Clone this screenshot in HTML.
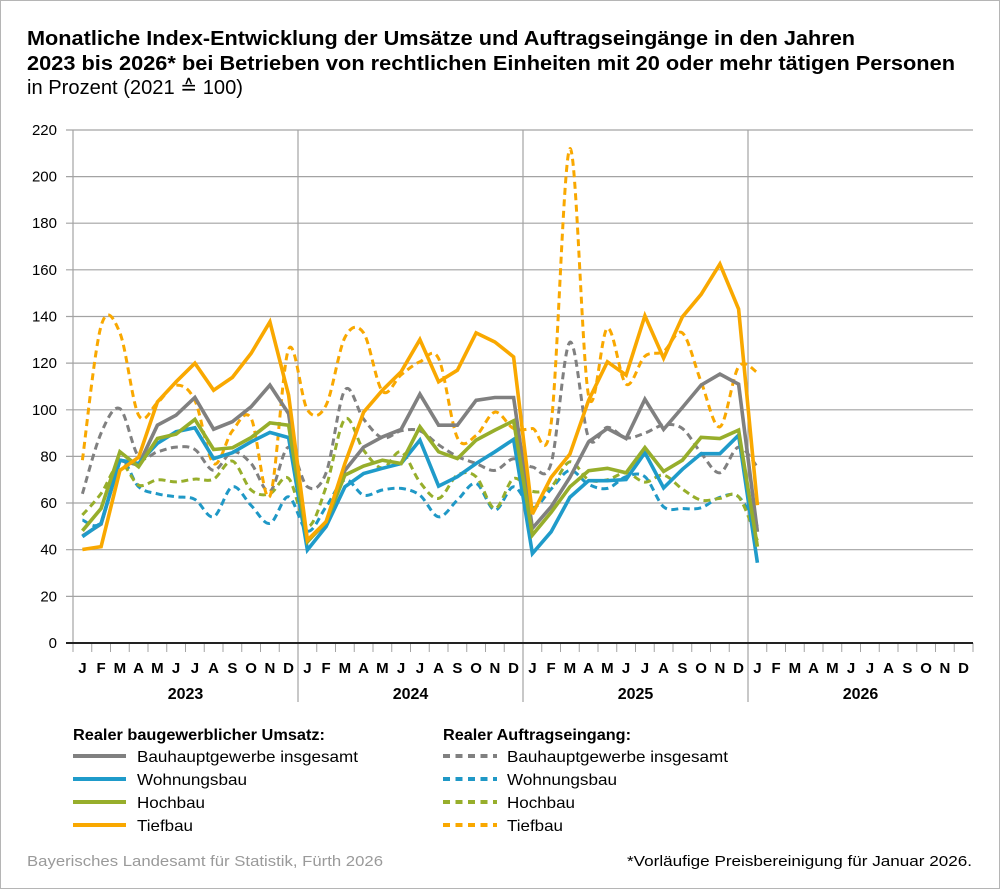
<!DOCTYPE html>
<html><head><meta charset="utf-8"><style>
html,body{margin:0;padding:0;background:#fff;}
svg{display:block;font-family:"Liberation Sans",Arial,sans-serif;}
</style></head><body>
<svg id="c" width="1000" height="889" viewBox="0 0 1000 889" xmlns="http://www.w3.org/2000/svg">
<rect x="0.5" y="0.5" width="999" height="888" fill="#fff" stroke="#b5b5b5" stroke-width="1"/>
<!-- Title -->
<text x="27" y="45" font-size="20" font-weight="bold" fill="#000" textLength="828" lengthAdjust="spacingAndGlyphs">Monatliche Index-Entwicklung der Umsätze und Auftragseingänge in den Jahren</text>
<text x="27" y="70" font-size="20" font-weight="bold" fill="#000" textLength="928" lengthAdjust="spacingAndGlyphs">2023 bis 2026* bei Betrieben von rechtlichen Einheiten mit 20 oder mehr tätigen Personen</text>
<text x="27" y="94" font-size="20" fill="#000" textLength="216" lengthAdjust="spacingAndGlyphs">in Prozent (2021 ≙ 100)</text>

<!-- grid -->
<g stroke="#a3a3a3" stroke-width="1.2">
<line x1="66" y1="596.4" x2="973" y2="596.4"/>
<line x1="66" y1="549.7" x2="973" y2="549.7"/>
<line x1="66" y1="503.0" x2="973" y2="503.0"/>
<line x1="66" y1="456.4" x2="973" y2="456.4"/>
<line x1="66" y1="409.8" x2="973" y2="409.8"/>
<line x1="66" y1="363.1" x2="973" y2="363.1"/>
<line x1="66" y1="316.5" x2="973" y2="316.5"/>
<line x1="66" y1="269.8" x2="973" y2="269.8"/>
<line x1="66" y1="223.2" x2="973" y2="223.2"/>
<line x1="66" y1="176.6" x2="973" y2="176.6"/>
<line x1="66" y1="130" x2="973" y2="130"/>
<line x1="73" y1="130" x2="73" y2="643"/>
<line x1="298" y1="130" x2="298" y2="702"/>
<line x1="523" y1="130" x2="523" y2="702"/>
<line x1="748" y1="130" x2="748" y2="702"/>
</g>
<!-- x ticks -->
<g stroke="#a3a3a3" stroke-width="1">
<line x1="73" y1="643" x2="73" y2="652"/><line x1="91.75" y1="643" x2="91.75" y2="652"/><line x1="110.5" y1="643" x2="110.5" y2="652"/><line x1="129.25" y1="643" x2="129.25" y2="652"/><line x1="148" y1="643" x2="148" y2="652"/><line x1="166.75" y1="643" x2="166.75" y2="652"/><line x1="185.5" y1="643" x2="185.5" y2="652"/><line x1="204.25" y1="643" x2="204.25" y2="652"/><line x1="223" y1="643" x2="223" y2="652"/><line x1="241.75" y1="643" x2="241.75" y2="652"/><line x1="260.5" y1="643" x2="260.5" y2="652"/><line x1="279.25" y1="643" x2="279.25" y2="652"/>
<line x1="316.75" y1="643" x2="316.75" y2="652"/><line x1="335.5" y1="643" x2="335.5" y2="652"/><line x1="354.25" y1="643" x2="354.25" y2="652"/><line x1="373" y1="643" x2="373" y2="652"/><line x1="391.75" y1="643" x2="391.75" y2="652"/><line x1="410.5" y1="643" x2="410.5" y2="652"/><line x1="429.25" y1="643" x2="429.25" y2="652"/><line x1="448" y1="643" x2="448" y2="652"/><line x1="466.75" y1="643" x2="466.75" y2="652"/><line x1="485.5" y1="643" x2="485.5" y2="652"/><line x1="504.25" y1="643" x2="504.25" y2="652"/>
<line x1="541.75" y1="643" x2="541.75" y2="652"/><line x1="560.5" y1="643" x2="560.5" y2="652"/><line x1="579.25" y1="643" x2="579.25" y2="652"/><line x1="598" y1="643" x2="598" y2="652"/><line x1="616.75" y1="643" x2="616.75" y2="652"/><line x1="635.5" y1="643" x2="635.5" y2="652"/><line x1="654.25" y1="643" x2="654.25" y2="652"/><line x1="673" y1="643" x2="673" y2="652"/><line x1="691.75" y1="643" x2="691.75" y2="652"/><line x1="710.5" y1="643" x2="710.5" y2="652"/><line x1="729.25" y1="643" x2="729.25" y2="652"/>
<line x1="766.75" y1="643" x2="766.75" y2="652"/><line x1="785.5" y1="643" x2="785.5" y2="652"/><line x1="804.25" y1="643" x2="804.25" y2="652"/><line x1="823" y1="643" x2="823" y2="652"/><line x1="841.75" y1="643" x2="841.75" y2="652"/><line x1="860.5" y1="643" x2="860.5" y2="652"/><line x1="879.25" y1="643" x2="879.25" y2="652"/><line x1="898" y1="643" x2="898" y2="652"/><line x1="916.75" y1="643" x2="916.75" y2="652"/><line x1="935.5" y1="643" x2="935.5" y2="652"/><line x1="954.25" y1="643" x2="954.25" y2="652"/><line x1="973" y1="643" x2="973" y2="652"/>
</g>
<line x1="66" y1="643" x2="973" y2="643" stroke="#222" stroke-width="2"/>

<!-- y labels -->
<g font-size="15" fill="#000" text-anchor="end">
<text x="57" y="648">0</text>
<text x="57" y="601.4">20</text>
<text x="57" y="554.7">40</text>
<text x="57" y="508">60</text>
<text x="57" y="461.4">80</text>
<text x="57" y="414.8">100</text>
<text x="57" y="368.1">120</text>
<text x="57" y="321.5">140</text>
<text x="57" y="274.8">160</text>
<text x="57" y="228.2">180</text>
<text x="57" y="181.6">200</text>
<text x="57" y="135">220</text>
</g>

<!-- month labels -->
<g font-size="15" font-weight="bold" fill="#000" text-anchor="middle">
<text x="82.4" y="673">J</text><text x="101.1" y="673">F</text><text x="119.9" y="673">M</text><text x="138.6" y="673">A</text><text x="157.4" y="673">M</text><text x="176.1" y="673">J</text><text x="194.9" y="673">J</text><text x="213.6" y="673">A</text><text x="232.4" y="673">S</text><text x="251.1" y="673">O</text><text x="269.9" y="673">N</text><text x="288.6" y="673">D</text>
<text x="307.4" y="673">J</text><text x="326.1" y="673">F</text><text x="344.9" y="673">M</text><text x="363.6" y="673">A</text><text x="382.4" y="673">M</text><text x="401.1" y="673">J</text><text x="419.9" y="673">J</text><text x="438.6" y="673">A</text><text x="457.4" y="673">S</text><text x="476.1" y="673">O</text><text x="494.9" y="673">N</text><text x="513.6" y="673">D</text>
<text x="532.4" y="673">J</text><text x="551.1" y="673">F</text><text x="569.9" y="673">M</text><text x="588.6" y="673">A</text><text x="607.4" y="673">M</text><text x="626.1" y="673">J</text><text x="644.9" y="673">J</text><text x="663.6" y="673">A</text><text x="682.4" y="673">S</text><text x="701.1" y="673">O</text><text x="719.9" y="673">N</text><text x="738.6" y="673">D</text>
<text x="757.4" y="673">J</text><text x="776.1" y="673">F</text><text x="794.9" y="673">M</text><text x="813.6" y="673">A</text><text x="832.4" y="673">M</text><text x="851.1" y="673">J</text><text x="869.9" y="673">J</text><text x="888.6" y="673">A</text><text x="907.4" y="673">S</text><text x="926.1" y="673">O</text><text x="944.9" y="673">N</text><text x="963.6" y="673">D</text>
</g>
<g font-size="16" font-weight="bold" fill="#000" text-anchor="middle">
<text x="185.5" y="699">2023</text>
<text x="410.5" y="699">2024</text>
<text x="635.5" y="699">2025</text>
<text x="860.5" y="699">2026</text>
</g>

<!-- dashed series (Auftragseingang) -->
<g fill="none" stroke-width="3" stroke-dasharray="7 4.5" stroke-linejoin="round">
<polyline class="sm" stroke="#808080" points="82.4,493.8 101.1,433.1 119.9,408.7 138.6,456.5 157.4,451.8 176.1,447.1 194.9,449.5 213.6,470.4 232.4,451.8 251.1,463.5 269.9,491.4 288.6,447.1 307.4,486.8 326.1,472.8 344.9,390.0 363.6,419.1 382.4,437.8 401.1,430.8 419.9,430.8 438.6,444.8 457.4,456.5 476.1,463.5 494.9,470.4 513.6,458.8 532.4,467.0 551.1,463.5 569.9,342.2 588.6,437.8 607.4,427.3 626.1,437.8 644.9,433.1 663.6,425.0 682.4,428.5 701.1,453.0 719.9,472.8 738.6,447.1 757.4,467.0"/>
<polyline class="sm" stroke="#1f98c6" points="82.4,520.1 101.1,521.7 119.9,461.1 138.6,486.8 157.4,493.8 176.1,496.8 194.9,499.4 213.6,516.8 232.4,486.8 251.1,505.4 269.9,523.4 288.6,496.8 307.4,531.1 326.1,506.8 344.9,479.8 363.6,495.2 382.4,490.0 401.1,488.4 419.9,495.2 438.6,516.8 457.4,500.1 476.1,483.5 494.9,510.1 513.6,486.8 532.4,507.8 551.1,489.1 569.9,470.4 588.6,484.4 607.4,488.4 626.1,476.7 644.9,476.7 663.6,506.8 682.4,508.5 701.1,507.8 719.9,497.3 738.6,496.8 757.4,526.4"/>
<polyline class="sm" stroke="#97ae2b" points="82.4,515.0 101.1,493.5 119.9,463.5 138.6,485.1 157.4,479.8 176.1,481.9 194.9,479.1 213.6,479.1 232.4,461.1 251.1,490.0 269.9,493.8 288.6,478.4 307.4,526.4 326.1,486.8 344.9,419.1 363.6,450.2 382.4,468.1 401.1,451.8 419.9,482.1 438.6,498.4 457.4,475.1 476.1,476.7 494.9,508.5 513.6,478.6 532.4,491.4 551.1,486.8 569.9,461.8 588.6,479.8 607.4,479.8 626.1,472.8 644.9,482.1 663.6,475.1 682.4,489.1 701.1,500.1 719.9,498.4 738.6,496.8 757.4,540.4"/>
<polyline class="sm" stroke="#f9a800" points="82.4,460.2 101.1,325.9 119.9,332.9 138.6,415.2 157.4,402.8 176.1,385.1 194.9,400.5 213.6,463.5 232.4,430.8 251.1,418.4 269.9,496.1 288.6,349.2 307.4,409.8 326.1,405.2 344.9,337.5 363.6,332.9 382.4,391.2 401.1,374.8 419.9,361.8 438.6,358.5 457.4,437.8 476.1,435.5 494.9,412.1 513.6,428.5 532.4,428.5 551.1,423.8 569.9,148.7 588.6,395.8 607.4,328.2 626.1,384.2 644.9,356.2 663.6,351.5 682.4,332.9 701.1,381.8 719.9,426.8 738.6,366.7 757.4,372.5"/>
</g>

<!-- solid series (Umsatz) -->
<g fill="none" stroke-width="3.6" stroke-linejoin="miter" stroke-miterlimit="3">
<polyline stroke="#808080" points="82.4,536.0 101.1,524.1 119.9,460.2 138.6,465.1 157.4,425.2 176.1,415.2 194.9,397.5 213.6,429.2 232.4,421.7 251.1,406.8 269.9,385.1 288.6,413.6 307.4,540.4 326.1,523.4 344.9,470.4 363.6,447.1 382.4,436.9 401.1,429.4 419.9,394.2 438.6,425.2 457.4,425.2 476.1,400.3 494.9,397.5 513.6,397.5 532.4,528.3 551.1,506.8 569.9,477.4 588.6,441.8 607.4,428.5 626.1,438.5 644.9,399.3 663.6,429.4 682.4,407.5 701.1,385.1 719.9,374.1 738.6,384.2 757.4,531.8"/>
<polyline stroke="#1f9bca" points="82.4,536.7 101.1,523.4 119.9,460.2 138.6,463.5 157.4,443.4 176.1,431.7 194.9,427.8 213.6,458.6 232.4,452.7 251.1,441.8 269.9,432.4 288.6,437.6 307.4,550.0 326.1,526.6 344.9,486.8 363.6,473.5 382.4,468.3 401.1,463.5 419.9,440.1 438.6,486.1 457.4,476.7 476.1,463.5 494.9,451.8 513.6,439.4 532.4,553.5 551.1,531.8 569.9,497.3 588.6,480.7 607.4,480.7 626.1,479.5 644.9,452.7 663.6,487.9 682.4,469.3 701.1,453.7 719.9,453.7 738.6,435.2 757.4,562.8"/>
<polyline stroke="#97ae2b" points="82.4,530.8 101.1,508.5 119.9,451.8 138.6,466.7 157.4,438.5 176.1,434.1 194.9,419.4 213.6,449.5 232.4,447.8 251.1,437.6 269.9,422.9 288.6,425.2 307.4,541.8 326.1,521.7 344.9,475.1 363.6,466.0 382.4,460.2 401.1,463.5 419.9,426.8 438.6,451.8 457.4,458.6 476.1,440.1 494.9,430.1 513.6,420.8 532.4,535.0 551.1,512.4 569.9,486.8 588.6,470.7 607.4,468.3 626.1,472.8 644.9,447.6 663.6,471.4 682.4,460.2 701.1,437.3 719.9,438.5 738.6,430.1 757.4,546.7"/>
<polyline stroke="#f9a800" points="82.4,549.5 101.1,546.7 119.9,470.4 138.6,457.4 157.4,401.9 176.1,381.8 194.9,363.2 213.6,390.2 232.4,377.4 251.1,353.4 269.9,321.9 288.6,395.1 307.4,540.2 326.1,521.7 344.9,463.5 363.6,412.2 382.4,390.2 401.1,371.8 419.9,339.6 438.6,381.8 457.4,370.2 476.1,332.9 494.9,342.0 513.6,356.9 532.4,514.1 551.1,477.4 569.9,454.1 588.6,400.3 607.4,361.8 626.1,375.1 644.9,315.8 663.6,358.1 682.4,316.8 701.1,294.4 719.9,264.1 738.6,309.1 757.4,505.2"/>
</g>

<!-- legend -->
<text x="73" y="740" font-size="16" font-weight="bold" fill="#000" textLength="252" lengthAdjust="spacingAndGlyphs">Realer baugewerblicher Umsatz:</text>
<text x="443" y="740" font-size="16" font-weight="bold" fill="#000" textLength="188" lengthAdjust="spacingAndGlyphs">Realer Auftragseingang:</text>
<g stroke-width="4">
<line x1="73" y1="756" x2="126" y2="756" stroke="#808080"/>
<line x1="73" y1="779" x2="126" y2="779" stroke="#1f9bca"/>
<line x1="73" y1="802" x2="126" y2="802" stroke="#97ae2b"/>
<line x1="73" y1="825" x2="126" y2="825" stroke="#f9a800"/>
</g>
<g stroke-width="4" stroke-dasharray="7 5.5">
<line x1="443" y1="756" x2="497" y2="756" stroke="#808080"/>
<line x1="443" y1="779" x2="497" y2="779" stroke="#1f98c6"/>
<line x1="443" y1="802" x2="497" y2="802" stroke="#97ae2b"/>
<line x1="443" y1="825" x2="497" y2="825" stroke="#f9a800"/>
</g>
<g font-size="16" fill="#000">
<text x="137" y="762" textLength="221" lengthAdjust="spacingAndGlyphs">Bauhauptgewerbe insgesamt</text>
<text x="137" y="785" textLength="110" lengthAdjust="spacingAndGlyphs">Wohnungsbau</text>
<text x="137" y="808" textLength="68" lengthAdjust="spacingAndGlyphs">Hochbau</text>
<text x="137" y="831" textLength="56" lengthAdjust="spacingAndGlyphs">Tiefbau</text>
<text x="507" y="762" textLength="221" lengthAdjust="spacingAndGlyphs">Bauhauptgewerbe insgesamt</text>
<text x="507" y="785" textLength="110" lengthAdjust="spacingAndGlyphs">Wohnungsbau</text>
<text x="507" y="808" textLength="68" lengthAdjust="spacingAndGlyphs">Hochbau</text>
<text x="507" y="831" textLength="56" lengthAdjust="spacingAndGlyphs">Tiefbau</text>
</g>

<!-- footer -->
<text x="27" y="866" font-size="15" fill="#9a9a9a" textLength="356" lengthAdjust="spacingAndGlyphs">Bayerisches Landesamt für Statistik, Fürth 2026</text>
<text x="972" y="866" font-size="15" fill="#000" text-anchor="end" textLength="345" lengthAdjust="spacingAndGlyphs">*Vorläufige Preisbereinigung für Januar 2026.</text>
</svg>
<script>
(function(){
  var ns="http://www.w3.org/2000/svg";
  var pls=document.querySelectorAll("polyline.sm");
  for(var k=0;k<pls.length;k++){
    var pl=pls[k];
    var pts=pl.getAttribute("points").trim().split(/\s+/).map(function(s){var a=s.split(",");return [parseFloat(a[0]),parseFloat(a[1])];});
    var d="M"+pts[0][0]+","+pts[0][1];
    for(var i=0;i<pts.length-1;i++){
      var p0=pts[i>0?i-1:i],p1=pts[i],p2=pts[i+1],p3=pts[i+2<pts.length?i+2:i+1];
      var c1x=p1[0]+(p2[0]-p0[0])/6,c1y=p1[1]+(p2[1]-p0[1])/6;
      var c2x=p2[0]-(p3[0]-p1[0])/6,c2y=p2[1]-(p3[1]-p1[1])/6;
      d+=" C"+c1x.toFixed(2)+","+c1y.toFixed(2)+" "+c2x.toFixed(2)+","+c2y.toFixed(2)+" "+p2[0]+","+p2[1];
    }
    var p=document.createElementNS(ns,"path");
    p.setAttribute("d",d);
    p.setAttribute("stroke",pl.getAttribute("stroke"));
    pl.parentNode.replaceChild(p,pl);
  }
})();
</script>
</body></html>
